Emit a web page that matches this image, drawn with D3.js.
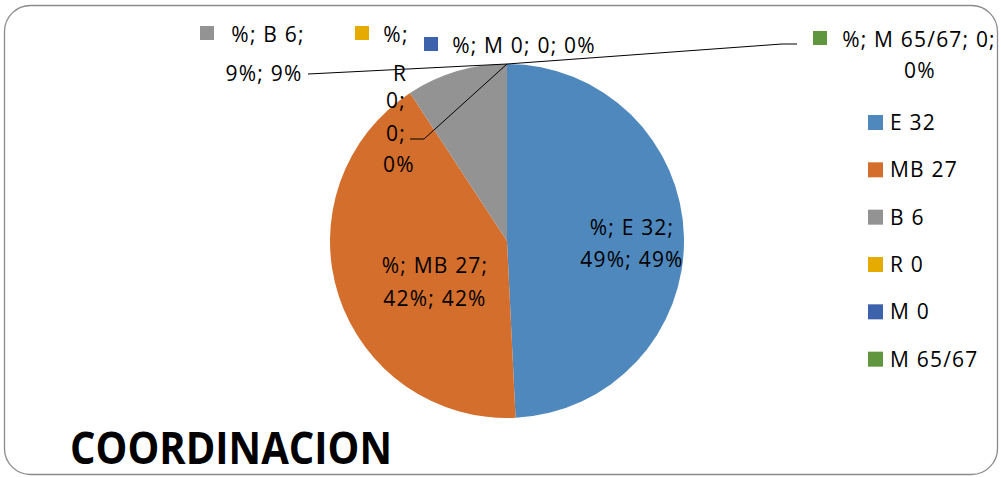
<!DOCTYPE html>
<html>
<head>
<meta charset="utf-8">
<script src="https://cdn.jsdelivr.net/npm/d3@7"></script>
<style>
  body { margin: 0; background: #fff; }
  svg { display: block; }
  text { font-family: "Open Sans", sans-serif; fill: #000; letter-spacing: 1.2px; }
</style>
</head>
<body>
<svg id="chart"></svg>
<script>
// data
const categories = ["E 32", "MB 27", "B 6", "R 0", "M 0", "M 65/67"];
const counts = [32, 27, 6, 0, 0, 0];
const pctLabels = ["49%", "42%", "9%", "0%", "0%", "0%"];
const colors = ["#4f88bd", "#d46e2c", "#939393", "#e5ab00", "#3c62ab", "#5f963e"];
const title = "COORDINACION";

const width = 1001,
    height = 477;

const svg = d3.select("#chart")
    .attr("width", width)
    .attr("height", height);

// outer frame
svg.append("rect")
    .attr("x", 4.5).attr("y", 5.5)
    .attr("width", 993).attr("height", 469)
    .attr("rx", 26).attr("ry", 26)
    .attr("fill", "#fff")
    .attr("stroke", "#8a8a8a")
    .attr("stroke-width", 1.3);

const cx = 507, cy = 241, r = 177;

const pie = d3.pie().sort(null).value(d => d).startAngle(0).endAngle(2 * Math.PI);
const arcs = pie(counts);
const arc = d3.arc().innerRadius(0).outerRadius(r);

const g = svg.append("g").attr("transform", `translate(${cx},${cy})`);

g.selectAll("path")
    .data(arcs)
    .join("path")
    .attr("d", arc)
    .attr("fill", (d, i) => colors[i]);

// leader lines (from the label boxes to the slice edge)
const lines = [
    [[308 - cx, 74 - cy], [0, -r]],
    [[410 - cx, 139 - cy], [424 - cx, 139 - cy], [0, -r]],
    [[0, -r], [782 - cx, 44 - cy], [797 - cx, 44 - cy]]
];
g.selectAll("path.leader")
    .data(lines)
    .join("path")
    .attr("class", "leader")
    .attr("d", d3.line())
    .attr("fill", "none")
    .attr("stroke", "#000")
    .attr("stroke-width", 1);

// data labels: "%; <cat>; <pct>; <pct>" broken the way the picture breaks them
const fs = 21;
const rName = categories[3].split(" ")[0];
const mName = categories[4].split(" ")[0];
const labelLayout = [
    {lines: ["%; " + categories[0] + ";", pctLabels[0] + "; " + pctLabels[0]], x: [632, 632], y: [235, 267]},
    {lines: ["%; " + categories[1] + ";", pctLabels[1] + "; " + pctLabels[1]], x: [435, 435], y: [273, 306]},
    {lines: ["%; " + categories[2] + ";", pctLabels[2] + "; " + pctLabels[2]], x: [268, 264], y: [42, 81], key: [200, 26]},
    {lines: ["%;", rName, counts[3] + ";", counts[3] + ";", pctLabels[3]], x: [396, 400, 396, 396, 399], y: [42, 81, 108, 141, 172], key: [355, 26]},
    {lines: ["%; " + mName + " " + counts[4] + "; " + counts[4] + "; " + pctLabels[4]], x: [524], y: [53], key: [424, 37]},
    {lines: ["%; " + categories[5] + "; " + counts[5] + ";", pctLabels[5]], x: [919, 920], y: [47, 78], key: [813, 31]}
];

labelLayout.forEach((L, i) => {
    const t = svg.append("g");
    if (L.key) {
        t.append("rect")
            .attr("x", L.key[0]).attr("y", L.key[1])
            .attr("width", 14).attr("height", 14)
            .attr("fill", colors[i]);
    }
    L.lines.forEach((s, j) => {
        t.append("text")
            .attr("x", L.x[j])
            .attr("y", L.y[j])
            .attr("text-anchor", "middle")
            .attr("font-size", fs)
            .text(s);
    });
});

// legend
const legend = svg.append("g").attr("transform", "translate(868,115)");
const ly = d3.scaleBand().domain(d3.range(categories.length)).range([0, 284]);
const item = legend.selectAll("g")
    .data(categories)
    .join("g")
    .attr("transform", (d, i) => `translate(0,${ly(i)})`);
item.append("rect")
    .attr("width", 15).attr("height", 15)
    .attr("fill", (d, i) => colors[i]);
item.append("text")
    .attr("x", 22).attr("y", 15)
    .attr("font-size", fs)
    .text(d => d);

// title
svg.append("text")
    .attr("x", 70).attr("y", 464)
    .attr("font-family", "Lato, sans-serif")
    .attr("font-size", 45)
    .attr("font-weight", "bold")
    .style("letter-spacing", "0px")
    .attr("textLength", 322)
    .attr("lengthAdjust", "spacingAndGlyphs")
    .text(title);
</script>
</body>
</html>
